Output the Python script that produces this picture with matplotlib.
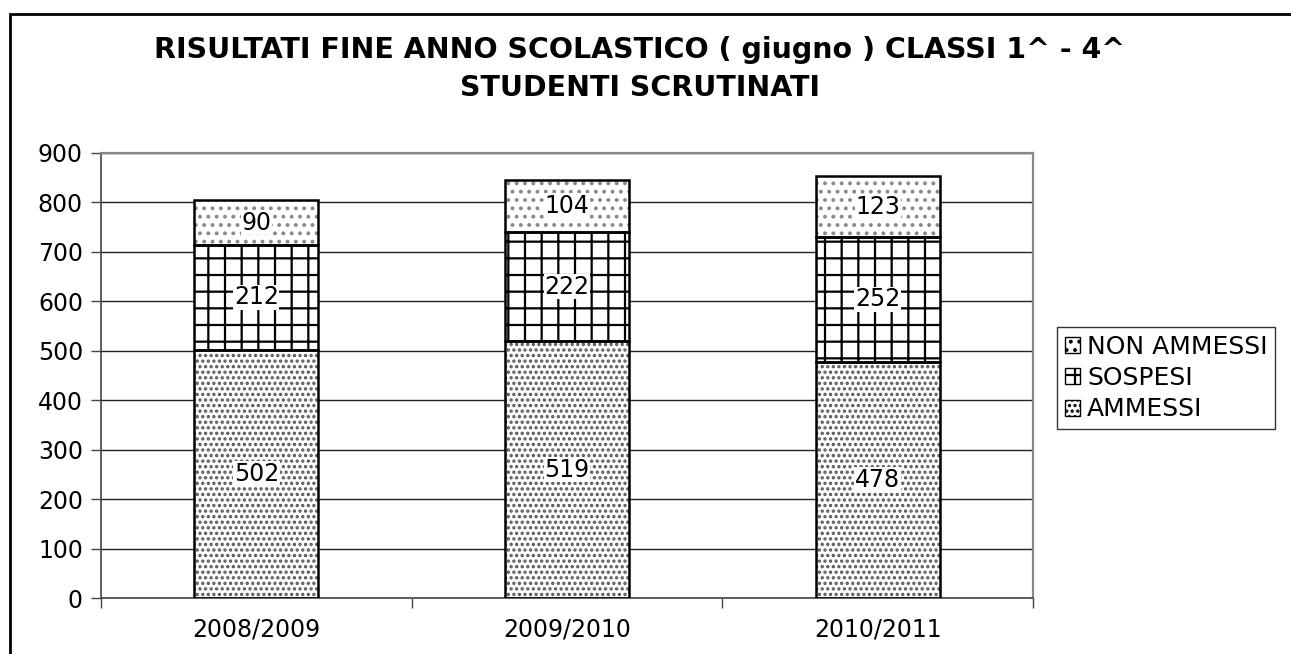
import matplotlib.pyplot as plt
import matplotlib.patches as mpatches
import numpy as np

plt.rcParams['font.family'] = ['DejaVu Sans']
plt.rcParams['hatch.linewidth'] = 1.6

#%%data
years = ["2008/2009", "2009/2010", "2010/2011"]
ammessi = [502, 519, 478]
sospesi = [212, 222, 252]
non_ammessi = [90, 104, 123]

series = [
    ("AMMESSI", ammessi, "...", "#555555"),
    ("SOSPESI", sospesi, "+", "black"),
    ("NON AMMESSI", non_ammessi, "..", "#8a8a8a"),
]

#%%plot
fig = plt.figure(figsize=(12.91, 6.54), dpi=100)
ax = fig.add_axes([101/1291, 1-598/654, (1033-101)/1291, (598-153)/654])

x = np.arange(len(years))
bottom = np.zeros(len(years))
for (name, vals, hatch, hc) in series:
    vals = np.array(vals)
    #hatch layer (edgecolor sets hatch colour), then black outline on top
    ax.bar(x, vals, 0.4, bottom=bottom, color="white", edgecolor=hc, hatch=hatch, linewidth=0, zorder=2)
    ax.bar(x, vals, 0.4, bottom=bottom, color="none", edgecolor="black", linewidth=1.8, zorder=3)
    for (xi, b, v) in zip(x, bottom, vals):
        ax.text(xi, b + v/2, str(v), ha="center", va="center", fontsize=17, zorder=4,
                bbox=dict(facecolor="white", edgecolor="none", pad=0.5))
    bottom += vals

ax.set_xlim(-0.5, 2.5)
ax.set_ylim(0, 900)
ax.set_yticks(np.arange(0, 901, 100))
ax.tick_params(axis="y", labelsize=17, length=7, width=1, color="#444444", pad=6)
ax.yaxis.grid(True, color="#222222", linewidth=1.0, zorder=0)
ax.set_axisbelow(True)

#category boundaries as major ticks, labels on minor ticks
ax.set_xticks([-0.5, 0.5, 1.5, 2.5])
ax.set_xticklabels([])
ax.set_xticks(x, minor=True)
ax.set_xticklabels(years, minor=True)
ax.tick_params(axis="x", which="major", length=7, width=1, color="#444444")
ax.tick_params(axis="x", which="minor", length=0, labelsize=17, pad=14)

for s in ["left", "bottom"]:
    ax.spines[s].set_color("#444444")
    ax.spines[s].set_linewidth(1.2)
for s in ["top", "right"]:
    ax.spines[s].set_color("#888888")
    ax.spines[s].set_linewidth(1.6)

fig.text(640/1291, 1-50/654, "RISULTATI FINE ANNO SCOLASTICO ( giugno ) CLASSI 1^ - 4^",
         ha="center", va="center", fontsize=20.5, fontweight="bold")
fig.text(640/1291, 1-88/654, "STUDENTI SCRUTINATI",
         ha="center", va="center", fontsize=20.5, fontweight="bold")

#legend
handles = [mpatches.Patch(facecolor="white", edgecolor="black", hatch=h, label=n)
           for (n, _, h, _) in reversed(series)]
leg = fig.legend(handles=handles, loc="upper left", bbox_to_anchor=(1057/1291, 1-327/654),
                 fontsize=18, frameon=True, fancybox=False, edgecolor="black",
                 handlelength=0.6, handleheight=0.6, handletextpad=0.3,
                 borderaxespad=0, labelspacing=0.3, borderpad=0.3)
leg.get_frame().set_linewidth(1.0)

#outer chart frame (runs off the right and bottom edge)
fig.add_artist(mpatches.Rectangle((10/1291, -0.1), 1.2, 1.1 - 14/654, transform=fig.transFigure,
                                  facecolor="none", edgecolor="black", linewidth=2, clip_on=False))

fig.savefig("out.png", dpi=100)
